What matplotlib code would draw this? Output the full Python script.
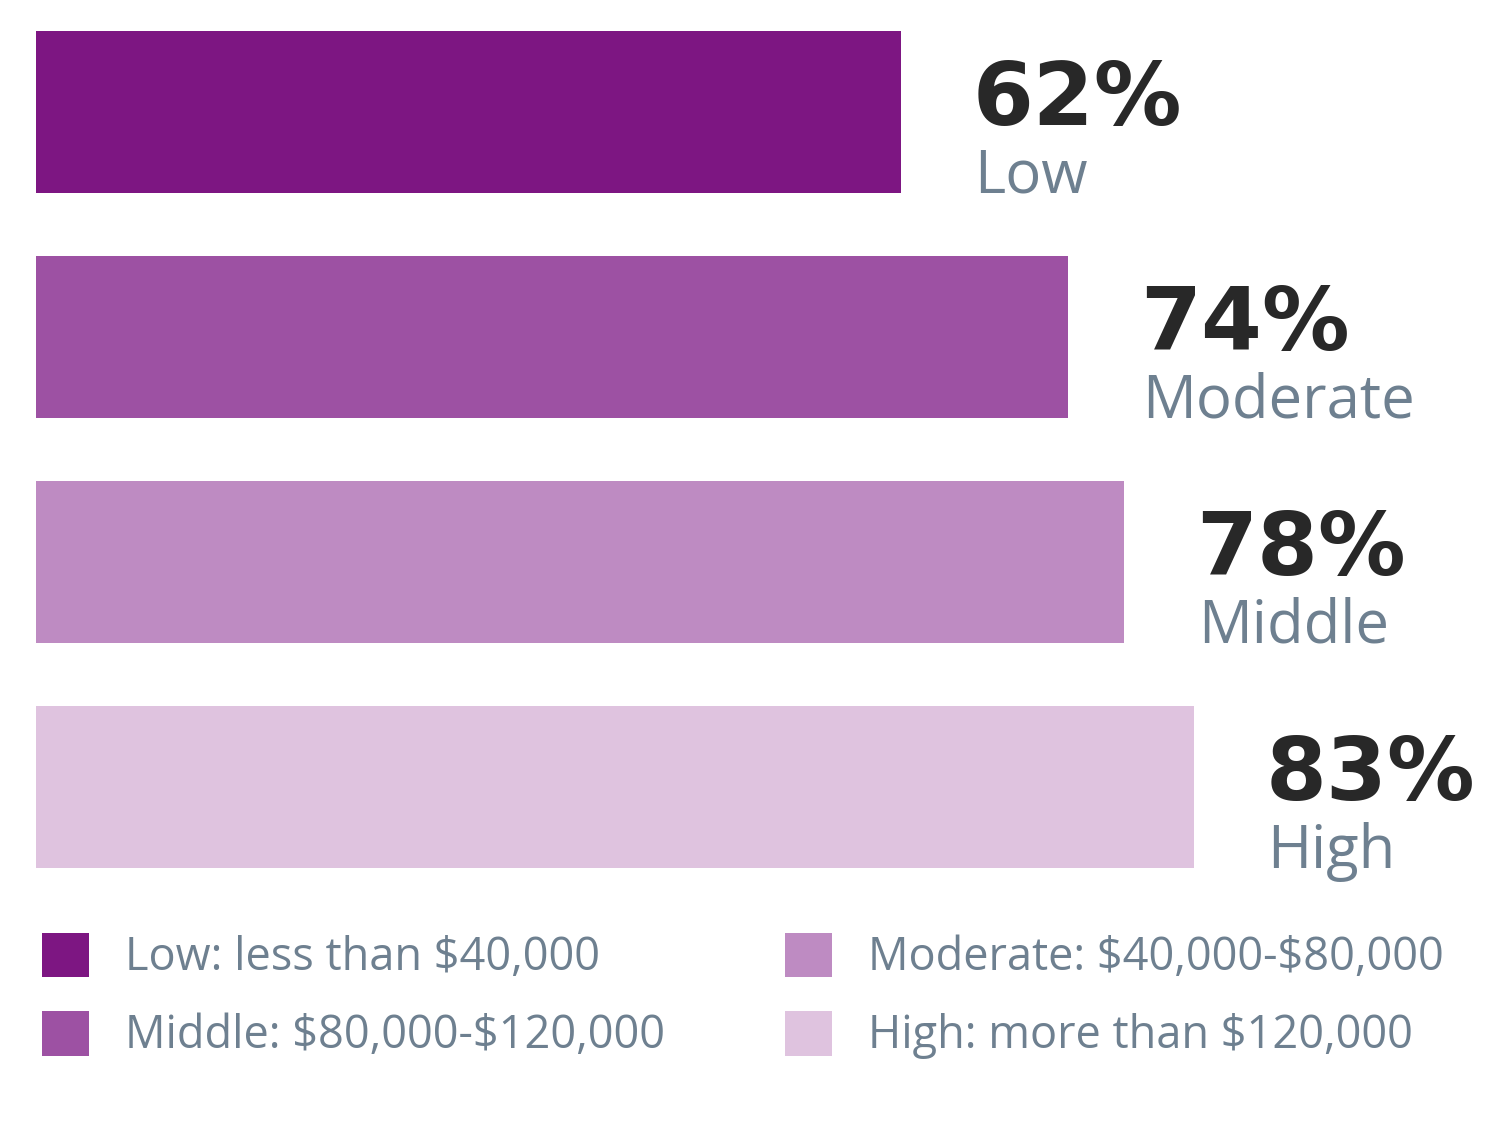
import matplotlib
matplotlib.use("Agg")
import matplotlib.pyplot as plt
from matplotlib.patches import Patch

categories = ["Low", "Moderate", "Middle", "High"]
values = [62, 74, 78, 83]
bar_colors = ["#7D1682", "#9D51A3", "#BE8BC2", "#DFC3DF"]

legend_labels = [r"Low: less than \$40,000", r"Middle: \$80,000-\$120,000",
                 r"Moderate: \$40,000-\$80,000", r"High: more than \$120,000"]
legend_colors = ["#7D1682", "#9D51A3", "#BE8BC2", "#DFC3DF"]

TXT_DARK = "#282828"
TXT_GRAY = "#6E8090"

fig = plt.figure(figsize=(15, 11.25), dpi=100)
ax = fig.add_axes([0, 0, 1, 1])

ax.barh(range(len(values)), values, height=0.72, color=bar_colors, left=0)
ax.set_xlim(-2.58, 104.95)
ax.set_ylim(4.502, -0.498)
ax.axis("off")

for i, (v, c) in enumerate(zip(values, categories)):
    ax.annotate("%d%%" % v, xy=(v, i), xytext=(52, -9), textcoords="offset points",
                fontsize=63, fontweight="bold", color=TXT_DARK, family="DejaVu Sans",
                ha="left", va="baseline")
    ax.annotate(c, xy=(v, i), xytext=(53, -58), textcoords="offset points",
                fontsize=43, color=TXT_GRAY, family="Open Sans",
                ha="left", va="baseline")

handles = [Patch(facecolor=col, edgecolor="none") for col in legend_colors]
leg = ax.legend(handles, legend_labels, ncol=2, loc="upper left",
                bbox_to_anchor=(0.016, 0.187), frameon=False,
                prop={"family": "Open Sans", "size": 32.5},
                handlelength=1.04, handleheight=1.15, handletextpad=0.8,
                columnspacing=2.65, labelspacing=0.65, borderaxespad=0)
for t in leg.get_texts():
    t.set_color(TXT_GRAY)

fig.savefig("out.png", dpi=100, facecolor="white")
